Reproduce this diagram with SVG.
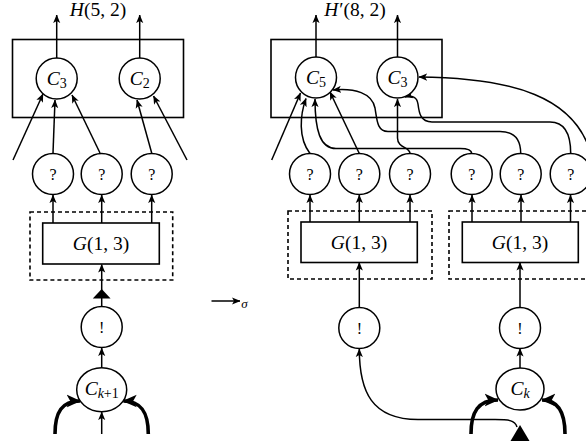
<svg xmlns="http://www.w3.org/2000/svg" width="586" height="445" viewBox="0 0 586 445">
<style>
.ln{fill:none;stroke:#000;stroke-width:1.5}
.th{fill:none;stroke:#000;stroke-width:3.6}
.nd{fill:#fff;stroke:#000;stroke-width:1.5}
.bx{fill:none;stroke:#000;stroke-width:1.6}
.ds{fill:none;stroke:#000;stroke-width:1.6;stroke-dasharray:4 3}
.t{font-family:"Liberation Serif","Times New Roman",serif;font-size:19.5px;fill:#000;text-anchor:middle}
.q{font-family:"Liberation Serif","Times New Roman",serif;font-size:16px;fill:#000;text-anchor:middle}
.i{font-style:italic}
.s{font-size:14px}
</style>
<defs>
<marker id="a" viewBox="0 0 10 10" refX="9.5" refY="5" markerWidth="8.5" markerHeight="8.5" orient="auto" markerUnits="userSpaceOnUse"><path d="M0,0.8 L10,5 L0,9.2 L2.5,5 Z"/></marker>
<marker id="b" viewBox="0 0 10 10" refX="9.5" refY="5" markerWidth="14" markerHeight="14" orient="auto" markerUnits="userSpaceOnUse"><path d="M0,0.5 L10,5 L0,9.5 L2.5,5 Z"/></marker>
</defs>

<g id="connectors">
<path class="ln" d="M56.7,58 L56.7,15" marker-end="url(#a)"/>
<path class="ln" d="M139.7,58 L139.7,15" marker-end="url(#a)"/>
<path class="ln" d="M13,160 L43,94" marker-end="url(#a)"/>
<path class="ln" d="M53,153 L55,100" marker-end="url(#a)"/>
<path class="ln" d="M100,153 L72,95" marker-end="url(#a)"/>
<path class="ln" d="M151.7,153 L137,100" marker-end="url(#a)"/>
<path class="ln" d="M187,160 L153.5,96" marker-end="url(#a)"/>
<path class="ln" d="M53,223 L53,195" marker-end="url(#a)"/>
<path class="ln" d="M101.7,223 L101.7,195" marker-end="url(#a)"/>
<path class="ln" d="M151.7,223 L151.7,195" marker-end="url(#a)"/>
<path class="ln" d="M101.7,306 L101.7,264.5" marker-end="url(#a)"/>
<polygon points="101.7,289 92.8,298.5 110.6,298.5" fill="#000"/>
<path class="ln" d="M101.7,367.5 L101.7,348" marker-end="url(#a)"/>
<path class="ln" d="M101.7,434 L101.7,412" marker-end="url(#a)"/>
<path class="th" d="M55,434 C55,412 62,401 80,401" marker-end="url(#b)"/>
<path class="th" d="M148.3,434 C148.3,412 141,401 123.4,401" marker-end="url(#b)"/>
<path class="ln" d="M211.5,301 L240,301" marker-end="url(#a)" stroke-width="1.2"/>
<path class="ln" d="M316,57 L316,15" marker-end="url(#a)"/>
<path class="ln" d="M397.5,57 L397.5,15" marker-end="url(#a)"/>
<path class="ln" d="M271.7,160 L300.5,93" marker-end="url(#a)"/>
<path class="ln" d="M310,153.5 C298,138 300,115 306,98.5" marker-end="url(#a)"/>
<path class="ln" d="M359.3,153.5 L330,92" marker-end="url(#a)"/>
<path class="ln" d="M410,153.5 C410,147 397.5,148 397.5,138 L397.5,99" marker-end="url(#a)"/>
<path class="ln" d="M471.7,153.5 C471.7,150 468,148.5 460,148.5 L336,148.5 C320,148.5 315,130 315,99" marker-end="url(#a)"/>
<path class="ln" d="M520.7,153.5 C520.7,140 515,131.5 500,131.5 L388,131.5 C377,131.5 377,120 375,108 C372,93 355,88 333,90" marker-end="url(#a)"/>
<path class="ln" d="M570.7,153.5 C570.7,135 565,122 550,122 L432,122 C420,122 419,112 418,104 C417,97 412,95 405,97" marker-end="url(#a)"/>
<path class="ln" d="M588,145 C570,100 520,78 419,77" marker-end="url(#a)"/>
<path class="ln" d="M310,222 L310,195" marker-end="url(#a)"/>
<path class="ln" d="M359.3,222 L359.3,195" marker-end="url(#a)"/>
<path class="ln" d="M410,222 L410,195" marker-end="url(#a)"/>
<path class="ln" d="M472,222 L472,195" marker-end="url(#a)"/>
<path class="ln" d="M521,222 L521,195" marker-end="url(#a)"/>
<path class="ln" d="M570.5,222 L570.5,195" marker-end="url(#a)"/>
<path class="ln" d="M359.3,308 L359.3,262.5" marker-end="url(#a)"/>
<path class="ln" d="M520,308 L520,262.5" marker-end="url(#a)"/>
<path class="ln" d="M520,368 L520,348.5" marker-end="url(#a)"/>
<path class="ln" d="M517,427 C515,420 508,419.5 495,419.5 L418,419.5 C372,419.5 359.3,392 359.3,349" marker-end="url(#a)"/>
<polygon points="520,425 510.5,441 529.5,441" fill="#000"/>
<path class="th" d="M471,434 C471,412 478,400 498,400" marker-end="url(#b)"/>
<path class="th" d="M565,434 C565,412 558,400 542,400" marker-end="url(#b)"/>
</g>

<g id="H-left">
<rect class="bx" x="12.5" y="39.5" width="171" height="78"/>
<text class="t" x="98" y="16"><tspan class="i">H</tspan>(5, 2)</text>
</g>
<g id="C3-left"><circle class="nd" cx="56.7" cy="78.5" r="20.5"/><text class="t" x="56.7" y="85"><tspan class="i">C</tspan><tspan class="s" dy="3">3</tspan></text></g>
<g id="C2-left"><circle class="nd" cx="139.7" cy="78.5" r="20.5"/><text class="t" x="139.7" y="85"><tspan class="i">C</tspan><tspan class="s" dy="3">2</tspan></text></g>
<g id="q1"><circle class="nd" cx="53" cy="174" r="20.5"/><text class="q" x="53" y="179.5">?</text></g>
<g id="q2"><circle class="nd" cx="101.7" cy="174" r="20.5"/><text class="q" x="101.7" y="179.5">?</text></g>
<g id="q3"><circle class="nd" cx="151.7" cy="174" r="20.5"/><text class="q" x="151.7" y="179.5">?</text></g>
<g id="G-left">
<rect class="ds" x="30" y="212" width="142.7" height="68"/>
<rect class="bx" x="42.7" y="223" width="116.6" height="41"/>
<text class="t" x="101" y="250"><tspan class="i">G</tspan>(1, 3)</text>
</g>
<g id="bang-left"><circle class="nd" cx="101.7" cy="327" r="20.5"/><text class="q" x="101.7" y="332.5">!</text></g>
<g id="Ck1"><ellipse class="nd" cx="101.7" cy="389.7" rx="25" ry="22"/><text class="t" x="101.7" y="395"><tspan class="i">C</tspan><tspan class="s i" dy="3">k</tspan><tspan class="s">+1</tspan></text></g>

<g id="sigma"><text class="q i" x="244.5" y="308" style="font-size:13px">σ</text></g>

<g id="H-right">
<rect class="bx" x="271" y="39.5" width="171" height="78"/>
<text class="t" x="355" y="16"><tspan class="i">H</tspan><tspan dx="1">′(8, 2)</tspan></text>
</g>
<g id="C5-right"><circle class="nd" cx="316" cy="77.5" r="20.5"/><text class="t" x="316" y="84"><tspan class="i">C</tspan><tspan class="s" dy="3">5</tspan></text></g>
<g id="C3-right"><circle class="nd" cx="397.5" cy="77.5" r="20.5"/><text class="t" x="397.5" y="84"><tspan class="i">C</tspan><tspan class="s" dy="3">3</tspan></text></g>
<g id="q4"><circle class="nd" cx="310" cy="174" r="20.5"/><text class="q" x="310" y="179.5">?</text></g>
<g id="q5"><circle class="nd" cx="359.3" cy="174" r="20.5"/><text class="q" x="359.3" y="179.5">?</text></g>
<g id="q6"><circle class="nd" cx="410" cy="174" r="20.5"/><text class="q" x="410" y="179.5">?</text></g>
<g id="q7"><circle class="nd" cx="471.7" cy="174" r="20.5"/><text class="q" x="471.7" y="179.5">?</text></g>
<g id="q8"><circle class="nd" cx="520.7" cy="174" r="20.5"/><text class="q" x="520.7" y="179.5">?</text></g>
<g id="q9"><circle class="nd" cx="570.7" cy="174" r="20.5"/><text class="q" x="570.7" y="179.5">?</text></g>
<g id="G-right1">
<rect class="ds" x="288" y="211" width="144" height="68"/>
<rect class="bx" x="301" y="222" width="116.3" height="40.5"/>
<text class="t" x="359" y="249"><tspan class="i">G</tspan>(1, 3)</text>
</g>
<g id="G-right2">
<rect class="ds" x="449" y="211" width="146" height="68"/>
<rect class="bx" x="462.3" y="222" width="116" height="40.5"/>
<text class="t" x="520" y="249"><tspan class="i">G</tspan>(1, 3)</text>
</g>
<g id="bang-right1"><circle class="nd" cx="359.3" cy="328" r="20.5"/><text class="q" x="359.3" y="333.5">!</text></g>
<g id="bang-right2"><circle class="nd" cx="520" cy="328" r="20.5"/><text class="q" x="520" y="333.5">!</text></g>
<g id="Ck"><ellipse class="nd" cx="520" cy="389" rx="24" ry="21"/><text class="t" x="520" y="394.5"><tspan class="i">C</tspan><tspan class="s i" dy="3">k</tspan></text></g>
</svg>
